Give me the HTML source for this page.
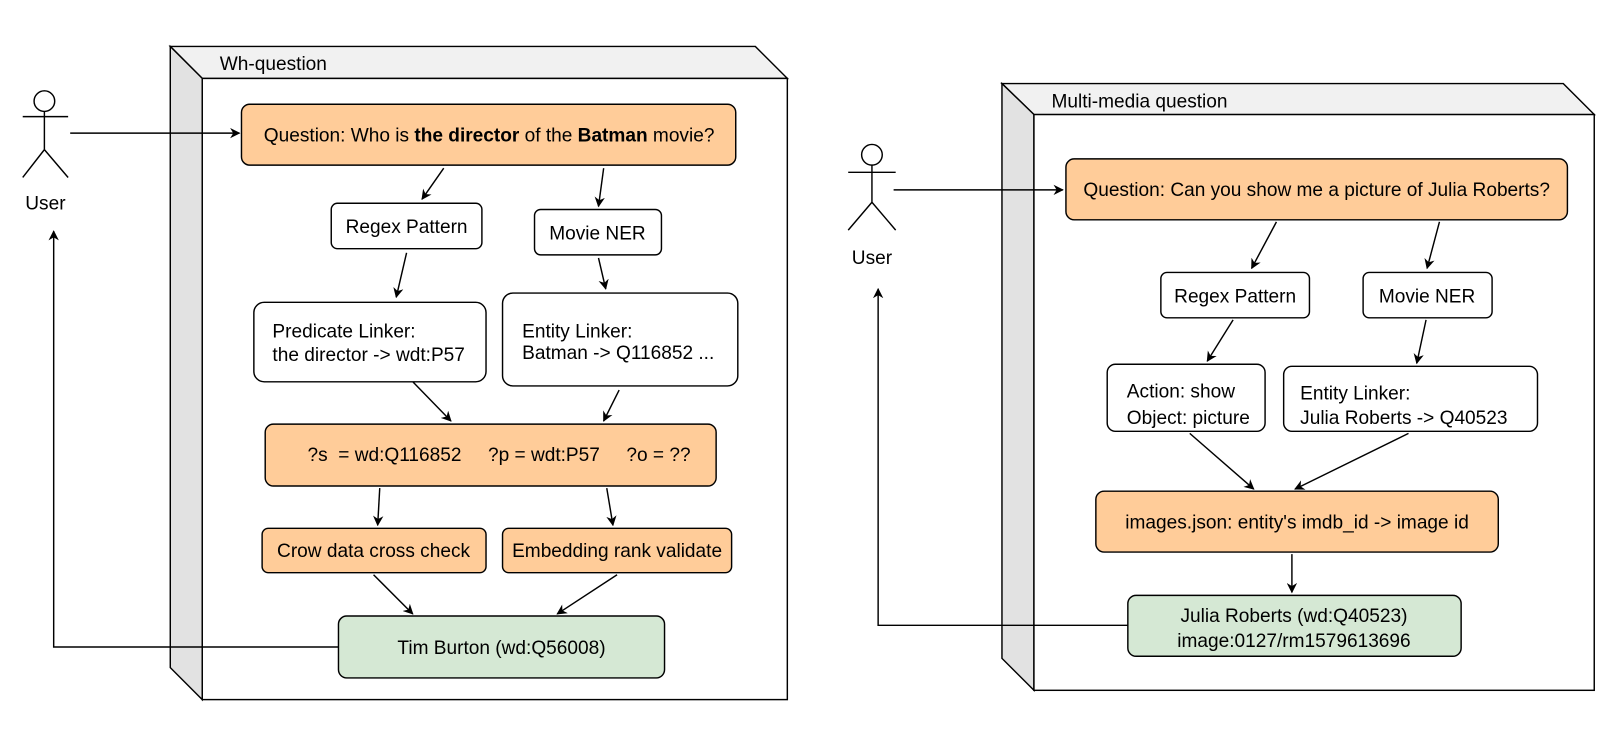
<!DOCTYPE html>
<html><head><meta charset="utf-8"><style>
html,body{margin:0;padding:0;background:#fff}
svg text{font-family:"Liberation Sans",Arial,sans-serif;font-size:18.5px;fill:#000}
</style></head><body>
<svg width="1618" height="732" viewBox="0 0 1568 709.4" xmlns="http://www.w3.org/2000/svg">
<defs>
<marker id="a" viewBox="0 0 10 10" refX="9" refY="5" markerWidth="10" markerHeight="10" orient="auto" markerUnits="userSpaceOnUse">
<path d="M0,0 L10,5 L0,10 L3,5 z" fill="#000"/></marker>
</defs>
<g stroke="#000" stroke-width="1.4">
<polygon points="165,45 732,45 763,76 196,76" fill="#f1f1f1"/>
<polygon points="165,45 196,76 196,678 165,647" fill="#e2e2e2"/>
<rect x="196" y="76" width="567" height="602" fill="#fff"/>
<polygon points="971,81 1515,81 1545,111 1002,111" fill="#f1f1f1"/>
<polygon points="971,81 1002,111 1002,669 971,638" fill="#e2e2e2"/>
<rect x="1002" y="111" width="543" height="558" fill="#fff"/>
</g>
<text x="213" y="68">Wh-question</text>
<text x="1019" y="104">Multi-media question</text>
<g fill="none" stroke="#000" stroke-width="1.4">
<circle cx="43" cy="98" r="10" fill="#fff"/>
<path d="M43,108 V145 M22,113 H66 M43,145 L22,172 M43,145 L66,172"/>
<circle cx="845" cy="150" r="10" fill="#fff"/>
<path d="M845,160 V196 M822,167 H868 M845,196 L822,223 M845,196 L868,223"/>
<g marker-end="url(#a)">
<path d="M68,129 H232"/>
<path d="M430,163 L409,193"/><path d="M585,163 L580,200"/>
<path d="M394,245 L384,288"/><path d="M580,250 L587,280"/>
<path d="M400,370 L437,408"/><path d="M600,378 L585,408"/>
<path d="M368,473 L366,509"/><path d="M588,473 L594,509"/>
<path d="M362,557 L400,595"/><path d="M598,557 L540,595"/>
<path d="M328,627 H52 V224"/>
<path d="M866,184 H1030"/>
<path d="M1237,215 L1213,260"/><path d="M1395,215 L1383,260"/>
<path d="M1195,310 L1170,350"/><path d="M1382,310 L1373,352"/>
<path d="M1153,420 L1215,474"/><path d="M1365,420 L1255,474"/>
<path d="M1252,537 V574"/>
<path d="M1093,606 H851 V280"/>
</g>
</g>
<g stroke="#000" stroke-width="1.4">
<rect x="234" y="101" width="479" height="59" rx="8" fill="#ffcc99"/>
<rect x="321" y="197" width="146" height="44" rx="6" fill="#fff"/>
<rect x="518" y="203" width="123" height="44" rx="6" fill="#fff"/>
<rect x="246" y="293" width="225" height="77" rx="10" fill="#fff"/>
<rect x="487" y="284" width="228" height="90" rx="10" fill="#fff"/>
<rect x="257" y="411" width="437" height="60" rx="8" fill="#ffcc99"/>
<rect x="254" y="512" width="217" height="43" rx="6" fill="#ffcc99"/>
<rect x="487" y="512" width="222" height="43" rx="6" fill="#ffcc99"/>
<rect x="328" y="597" width="316" height="60" rx="8" fill="#d5e8d4"/>
<rect x="1033" y="154" width="486" height="59" rx="8" fill="#ffcc99"/>
<rect x="1125" y="264" width="144" height="44" rx="6" fill="#fff"/>
<rect x="1321" y="264" width="125" height="44" rx="6" fill="#fff"/>
<rect x="1073" y="353" width="153" height="65" rx="8" fill="#fff"/>
<rect x="1244" y="355" width="246" height="63" rx="8" fill="#fff"/>
<rect x="1062" y="476" width="390" height="59" rx="8" fill="#ffcc99"/>
<rect x="1093" y="577" width="323" height="59" rx="8" fill="#d5e8d4"/>
</g>
<text x="44" y="203" text-anchor="middle">User</text>
<text x="845" y="256" text-anchor="middle">User</text>
<text x="474" y="137" text-anchor="middle">Question: Who is <tspan font-weight="bold">the director</tspan> of the <tspan font-weight="bold">Batman</tspan> movie?</text>
<text x="394" y="226" text-anchor="middle">Regex Pattern</text>
<text x="579" y="232" text-anchor="middle">Movie NER</text>
<text x="264" y="327">Predicate Linker:</text>
<text x="264" y="350">the director -&gt; wdt:P57</text>
<text x="506" y="327">Entity Linker:</text>
<text x="506" y="348">Batman -&gt; Q116852 ...</text>
<text x="298" y="447" xml:space="preserve">?s  = wd:Q116852     ?p = wdt:P57     ?o = ??</text>
<text x="362" y="540" text-anchor="middle">Crow data cross check</text>
<text x="598" y="540" text-anchor="middle">Embedding rank validate</text>
<text x="486" y="634" text-anchor="middle">Tim Burton (wd:Q56008)</text>
<text x="1276" y="190" text-anchor="middle">Question: Can you show me a picture of Julia Roberts?</text>
<text x="1197" y="293" text-anchor="middle">Regex Pattern</text>
<text x="1383" y="293" text-anchor="middle">Movie NER</text>
<text x="1092" y="385">Action: show</text>
<text x="1092" y="411">Object: picture</text>
<text x="1260" y="387">Entity Linker:</text>
<text x="1260" y="411">Julia Roberts -&gt; Q40523</text>
<text x="1257" y="512" text-anchor="middle">images.json: entity's imdb_id -&gt; image id</text>
<text x="1254" y="603" text-anchor="middle">Julia Roberts (wd:Q40523)</text>
<text x="1254" y="627" text-anchor="middle">image:0127/rm1579613696</text>
</svg>
</body></html>
